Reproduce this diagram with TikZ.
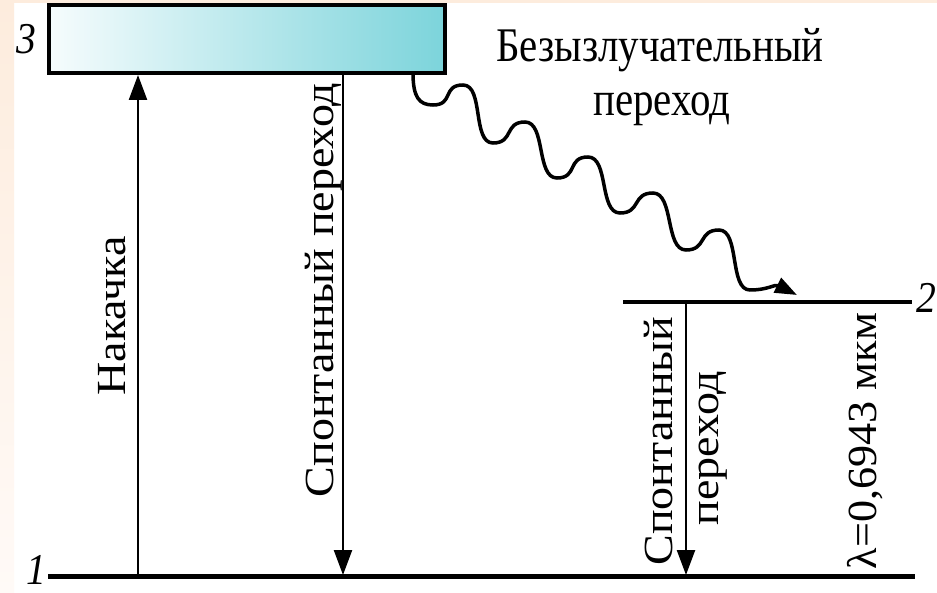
\documentclass[tikz,border=0pt]{standalone}
\usepackage{fontspec}
\setmainfont{Liberation Serif}
\usetikzlibrary{arrows.meta}
\definecolor{peach}{RGB}{253,236,221}
\definecolor{peachlight}{RGB}{255,250,247}
\definecolor{boxcyan}{RGB}{124,212,219}
\definecolor{boxwhite}{RGB}{246,252,253}
\begin{document}
\begin{tikzpicture}[x=1pt,y=-1pt,
  lvl/.style={line width=4.5pt},
  shaft/.style={line width=2.4pt,-{Triangle[length=25pt,width=18pt]}},
  wavy/.style={line width=3.5pt,-{Triangle[length=22pt,width=16pt]}},
  txt/.style={font=\fontsize{46}{50}\selectfont,inner sep=0pt},
  lbl/.style={txt,xscale=0.89,yscale=1.05},
  num/.style={font=\fontsize{44}{48}\selectfont\itshape,inner sep=0pt,xscale=0.9},
  rlbl/.style={txt,xscale=0.9,rotate=90,anchor=base},
  lamlbl/.style={txt,xscale=0.9,yscale=0.96,rotate=90,anchor=base}]
\useasboundingbox (0,0) rectangle (937,593);
\fill[white] (0,0) rectangle (937,593);
\fill[peach] (0,0) rectangle (937,3);
\shade[top color=peach,bottom color=peachlight] (0,0) rectangle (14,593);
% level 3 box
\node[draw,line width=4pt,minimum width=396pt,minimum height=68pt,inner sep=0pt,
      left color=boxwhite,right color=boxcyan] (box) at (247,39) {};
\node[num] (n3) at (26,39) {3};
% levels 1 and 2
\coordinate (l1a) at (48,576.5);
\coordinate (l1b) at (915,576.5);
\coordinate (l2a) at (623,302);
\coordinate (l2b) at (912,302);
\draw[lvl] (l1a) -- (l1b);
\draw[lvl] (l2a) -- (l2b);
\node[num] (n1) at (36,570) {1};
\node[num] (n2) at (926,298) {2};
% vertical transitions
\coordinate (pumpb) at (138,576.5);
\coordinate (sp1t) at (343,75);
\coordinate (sp1b) at (343,575);
\coordinate (sp2t) at (686,302);
\coordinate (sp2b) at (686,575);
\draw[shaft] (pumpb) -- (pumpb |- box.south);
\draw[shaft] (sp1t) -- (sp1b);
\draw[shaft] (sp2t) -- (sp2b);
% non-radiative wavy transition
\coordinate (ws) at (413,73);
\coordinate (wend) at (797,295);
\draw[wavy] (ws) .. controls +(0,24) and +(-14,0) .. (433,105)
  .. controls +(21,0) and +(-21,0) .. (463,85)
  .. controls +(21,0) and +(-21,0) .. (493,143)
  .. controls +(21,0) and +(-21,0) .. (525,122)
  .. controls +(21,0) and +(-21,0) .. (557,178)
  .. controls +(21,0) and +(-21,0) .. (588,157)
  .. controls +(21,0) and +(-21,0) .. (620,213)
  .. controls +(21,0) and +(-21,0) .. (653,193)
  .. controls +(21,0) and +(-21,0) .. (686,250)
  .. controls +(21,0) and +(-21,0) .. (719,230)
  .. controls +(21,0) and +(-21,0) .. (750,290)
  .. controls +(18,0) and +(-22,-11) .. (wend);
% labels
\node[lbl,anchor=base] (t1) at (660,62) {Безызлучательный};
\node[lbl,anchor=base] (t2) at (662,116) {переход};
\node[rlbl] (pump) at (125,316) {Накачка};
\node[rlbl] (sp1) at (333,290) {Спонтанный переход};
\node[rlbl] (sp2a) at (672,441) {Спонтанный};
\node[rlbl] (sp2b) at (718,448) {переход};
\node[lamlbl] (lam) at (876,441) {λ=0,6943 мкм};
\end{tikzpicture}
\end{document}
